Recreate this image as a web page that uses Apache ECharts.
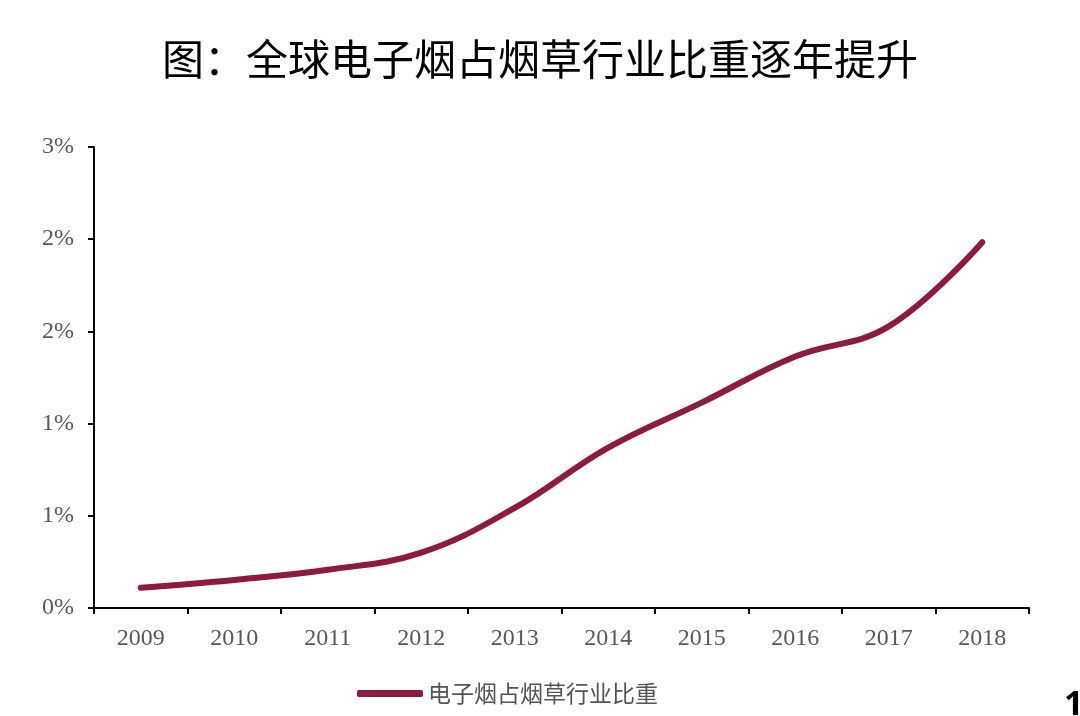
<!DOCTYPE html>
<html><head><meta charset="utf-8">
<script src="https://cdn.jsdelivr.net/npm/echarts@6/dist/echarts.min.js"></script>
<style>html,body{margin:0;padding:0;background:#fff}#c{width:1080px;height:716px}</style>
</head><body><div id="c"></div>
<script>
const title = '图：全球电子烟占烟草行业比重逐年提升';
const seriesName = '电子烟占烟草行业比重';
const years = ['2009','2010','2011','2012','2013','2014','2015','2016','2017','2018'];
const shareValues = [0.11, 0.152, 0.207, 0.30, 0.543, 0.87, 1.114, 1.364, 1.527, 1.984];
const yMin = 0, yMax = 2.5, yStep = 0.5;

const chart = echarts.init(document.getElementById('c'), null, {renderer: 'canvas'});
chart.setOption({
  backgroundColor: '#fff',
  animation: false,
  title: {
    text: title, left: 'center', top: 33,
    textStyle: {fontFamily: 'Noto Sans CJK SC', fontSize: 42, fontWeight: 'normal', color: '#000'}
  },
  legend: {
    data: [seriesName], left: 352, top: 677, itemWidth: 66, itemHeight: 7, itemGap: 6,
    icon: 'roundRect',
    textStyle: {fontFamily: 'Noto Sans CJK SC', fontSize: 23, color: '#555'}
  },
  grid: {left: 94, right: 51, top: 147, bottom: 108, containLabel: false},
  xAxis: {
    type: 'category', data: years, boundaryGap: true,
    axisLine: {lineStyle: {color: '#000', width: 2}},
    axisTick: {show: true, length: 6, lineStyle: {color: '#000', width: 2}},
    axisLabel: {fontFamily: 'Liberation Serif', fontSize: 24, color: '#595959', margin: 19}
  },
  yAxis: {
    type: 'value', min: yMin, max: yMax, interval: yStep,
    axisLine: {show: true, lineStyle: {color: '#000', width: 2}},
    axisTick: {show: true, length: 6, lineStyle: {color: '#000', width: 2}},
    splitLine: {show: false},
    axisLabel: {fontFamily: 'Liberation Serif', fontSize: 24, color: '#595959', margin: 20,
      formatter: v => Math.round(v) + '%'}
  },
  series: [{
    name: seriesName, type: 'line', data: shareValues, smooth: 0.4,
    showSymbol: false, symbol: 'none',
    lineStyle: {color: '#8E1B3D', width: 6, cap: 'round'},
    itemStyle: {color: '#8E1B3D'}
  }],
  graphic: [{
    type: 'text', left: 1064, top: 688,
    style: {text: '1', font: 'bold 34px "Noto Sans"', fill: '#000'}
  }]
});
</script></body></html>
